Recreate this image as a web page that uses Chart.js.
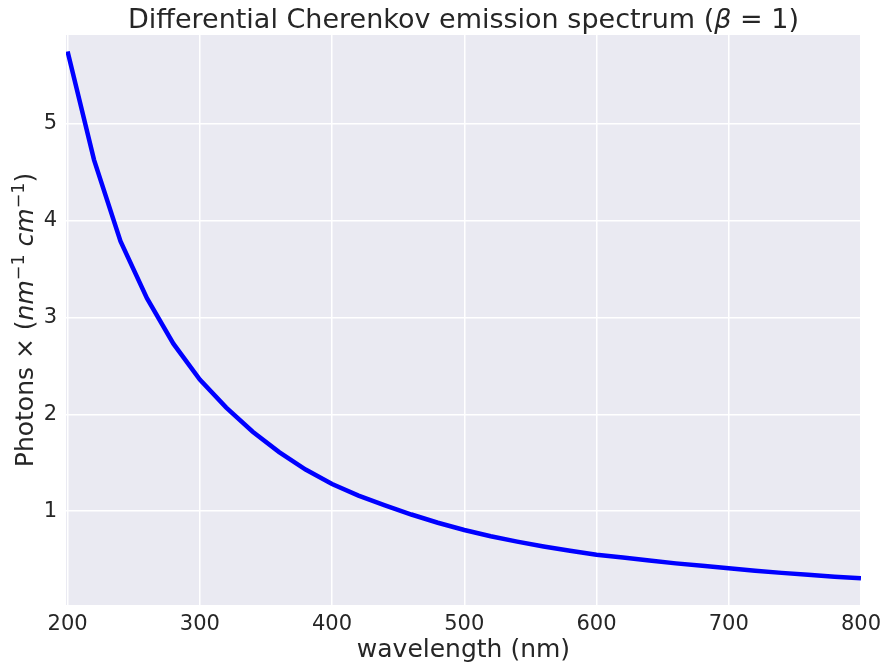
<!DOCTYPE html>
<html>
<head>
<meta charset="utf-8">
<script src="https://cdn.jsdelivr.net/npm/chart.js@4"></script>
<style>
  html, body { margin: 0; padding: 0; background: #ffffff; }
  #wrap { width: 888px; height: 667px; }
</style>
</head>
<body>
<div id="wrap"><canvas id="spectrumChart" width="888" height="667"></canvas></div>
<script>
// wavelength samples (nm)
const wavelength = [200, 220, 240, 260, 280, 300, 320, 340, 360, 380, 400,
    420, 440, 460, 480, 500, 520, 540, 560, 580, 600,
    620, 640, 660, 680, 700, 720, 740, 760, 780, 800];
// photons per nm per cm
const photons = [5.75, 4.63, 3.79, 3.20, 2.73, 2.36, 2.07, 1.82, 1.61, 1.43, 1.28,
    1.16, 1.06, 0.965, 0.88, 0.805, 0.74, 0.685, 0.635, 0.59, 0.55,
    0.52, 0.49, 0.46, 0.435, 0.41, 0.385, 0.362, 0.342, 0.323, 0.306];
const xTicks = [200, 300, 400, 500, 600, 700, 800];
const yTicks = [1, 2, 3, 4, 5];

const TEXT = '#262626';
const FONT = 'DejaVu Sans';

// draw a run of text pieces (normal / italic / superscript) starting at x
function drawRich(ctx, parts, size, x, y) {
    parts.forEach(p => {
        const s = p.sup ? size * 0.7 : size;
        ctx.font = (p.italic ? 'oblique ' : '') + s + 'px "' + FONT + '"';
        ctx.fillText(p.text, x, p.sup ? y - size * 0.38 : y);
        x += ctx.measureText(p.text).width;
    });
}
function richWidth(ctx, parts, size) {
    let w = 0;
    parts.forEach(p => {
        const s = p.sup ? size * 0.7 : size;
        ctx.font = (p.italic ? 'oblique ' : '') + s + 'px "' + FONT + '"';
        w += ctx.measureText(p.text).width;
    });
    return w;
}

const titleParts = [
    { text: 'Differential Cherenkov emission spectrum (' },
    { text: 'β', italic: true },
    { text: ' = 1)' }
];
const yLabelParts = [
    { text: 'Photons × (' },
    { text: 'nm', italic: true },
    { text: '−1', sup: true },
    { text: ' ' },
    { text: 'cm', italic: true },
    { text: '−1', sup: true },
    { text: ')' }
];

const labelsPlugin = {
    id: 'labels',
    beforeDraw(chart) {
        const { ctx, chartArea: a } = chart;
        ctx.save();
        ctx.fillStyle = '#EAEAF2';
        ctx.fillRect(a.left, a.top, a.right - a.left, a.bottom - a.top);
        ctx.restore();
    },
    afterDraw(chart) {
        const { ctx, chartArea: a } = chart;
        const cx = (a.left + a.right) / 2;
        ctx.save();
        ctx.fillStyle = TEXT;
        ctx.textBaseline = 'alphabetic';
        ctx.textAlign = 'left';

        // title
        let w = richWidth(ctx, titleParts, 27);
        drawRich(ctx, titleParts, 27, cx - w / 2, 28);

        // x label
        ctx.font = '25px "' + FONT + '"';
        ctx.textAlign = 'center';
        ctx.fillText('wavelength (nm)', cx, 657);
        ctx.textAlign = 'left';

        // y label, rotated
        const cy = (a.top + a.bottom) / 2;
        w = richWidth(ctx, yLabelParts, 25);
        ctx.translate(33, cy);
        ctx.rotate(-Math.PI / 2);
        drawRich(ctx, yLabelParts, 25, -w / 2, 0);
        ctx.restore();
    }
};

new Chart(document.getElementById('spectrumChart'), {
    type: 'line',
    data: {
        datasets: [{
            data: wavelength.map((x, i) => ({ x: x, y: photons[i] })),
            borderColor: '#0000FF',
            borderWidth: 4.5,
            pointRadius: 0,
            tension: 0,
            fill: false
        }]
    },
    options: {
        responsive: false,
        animation: false,
        layout: { padding: { left: 0, right: 26, top: 35, bottom: 0 } },
        plugins: {
            legend: { display: false },
            tooltip: { enabled: false }
        },
        scales: {
            x: {
                type: 'linear',
                min: 198.8,
                max: 800,
                afterBuildTicks: s => { s.ticks = xTicks.map(v => ({ value: v })); },
                afterFit: s => { s.height = 62; },
                border: { display: false },
                grid: { color: '#ffffff', lineWidth: 1.5, drawTicks: false },
                ticks: {
                    color: TEXT,
                    padding: 7,
                    maxRotation: 0,
                    font: { family: FONT, size: 21 }
                }
            },
            y: {
                type: 'linear',
                min: 0.03,
                max: 5.92,
                afterBuildTicks: s => { s.ticks = yTicks.map(v => ({ value: v })); },
                afterFit: s => { s.width = 66; },
                border: { display: false },
                grid: { color: '#ffffff', lineWidth: 1.5, drawTicks: false },
                ticks: {
                    color: TEXT,
                    padding: 9,
                    font: { family: FONT, size: 21 }
                }
            }
        }
    },
    plugins: [labelsPlugin]
});
</script>
</body>
</html>
